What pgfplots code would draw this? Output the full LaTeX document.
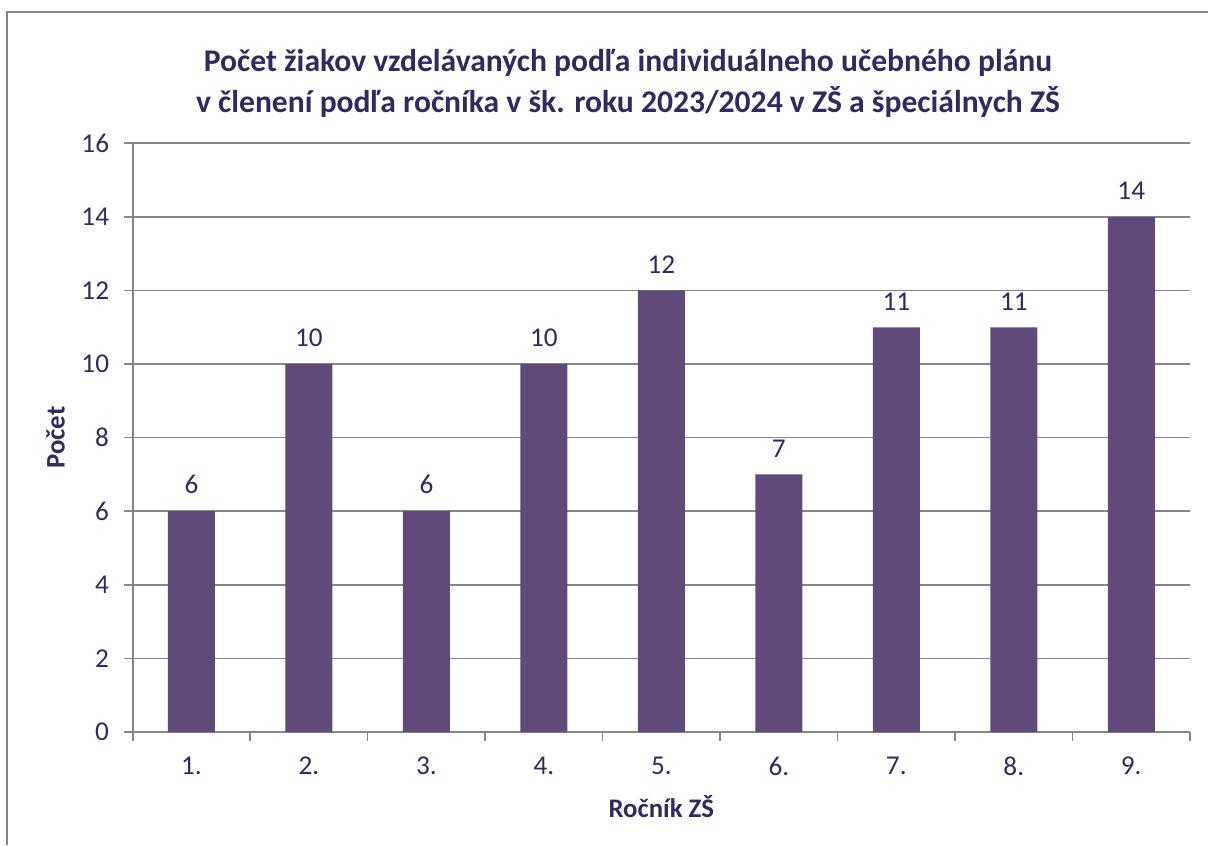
\documentclass[border=0pt]{standalone}
\usepackage{fontspec}
\setmainfont{Carlito}
\usepackage{pgfplots}
\pgfplotsset{compat=1.18}
\definecolor{txt}{HTML}{2F2B5F}
\definecolor{barc}{HTML}{604A7B}
\definecolor{axg}{HTML}{868686}
\begin{document}
\begin{tikzpicture}[x=0.5pt,y=0.5pt]
\useasboundingbox (0,0) rectangle (1208,845);
\draw[axg,line width=1pt] (6.7,0) -- (6.7,833) -- (1208,833);
\coordinate (SW) at (132.7,113);
\node[txt,font=\fontsize{15.8}{20.5}\selectfont\bfseries,align=center] at (628,762)
  {Počet žiakov vzdelávaných podľa individuálneho učebného plánu\\
   v členení podľa ročníka v šk. roku 2023/2024 v ZŠ a špeciálnych ZŠ};
\begin{axis}[
  at={(SW)}, anchor=south west,
  scale only axis, width=528.65pt, height=294.35pt,
  xmin=0.5, xmax=9.5, ymin=0, ymax=16,
  axis x line*=bottom, axis y line*=left,
  axis line style={axg,line width=0.8pt,-},
  xtick={0.5,1.5,...,9.5},
  x tick label as interval,
  xticklabels={1.,2.,3.,4.,5.,6.,7.,8.,9.},
  ytick={0,2,...,16},
  tick align=outside,
  major tick length=4.3pt,
  tick style={axg,line width=0.8pt},
  ymajorgrids,
  grid style={axg,line width=0.8pt},
  ticklabel style={txt,font=\fontsize{13.6}{16}\selectfont},
  /pgf/number format/assume math mode=true,
  yticklabel style={xshift=-4pt},
  xticklabel style={yshift=-4.5pt},
  xlabel={\bfseries Ročník ZŠ},
  ylabel={\bfseries Počet},
  label style={txt,font=\fontsize{13.4}{15}\selectfont},
  xlabel style={yshift=-3pt},
  ylabel style={yshift=1.5pt},
  ybar, bar width=23.5pt,
  nodes near coords,
  every node near coord/.append style={txt,font=\fontsize{13.6}{16}\selectfont,yshift=5pt},
]
\addplot[fill=barc,draw=none] coordinates {
(1,6) (2,10) (3,6) (4,10) (5,12) (6,7) (7,11) (8,11) (9,14)};
\end{axis}
\end{tikzpicture}
\end{document}
